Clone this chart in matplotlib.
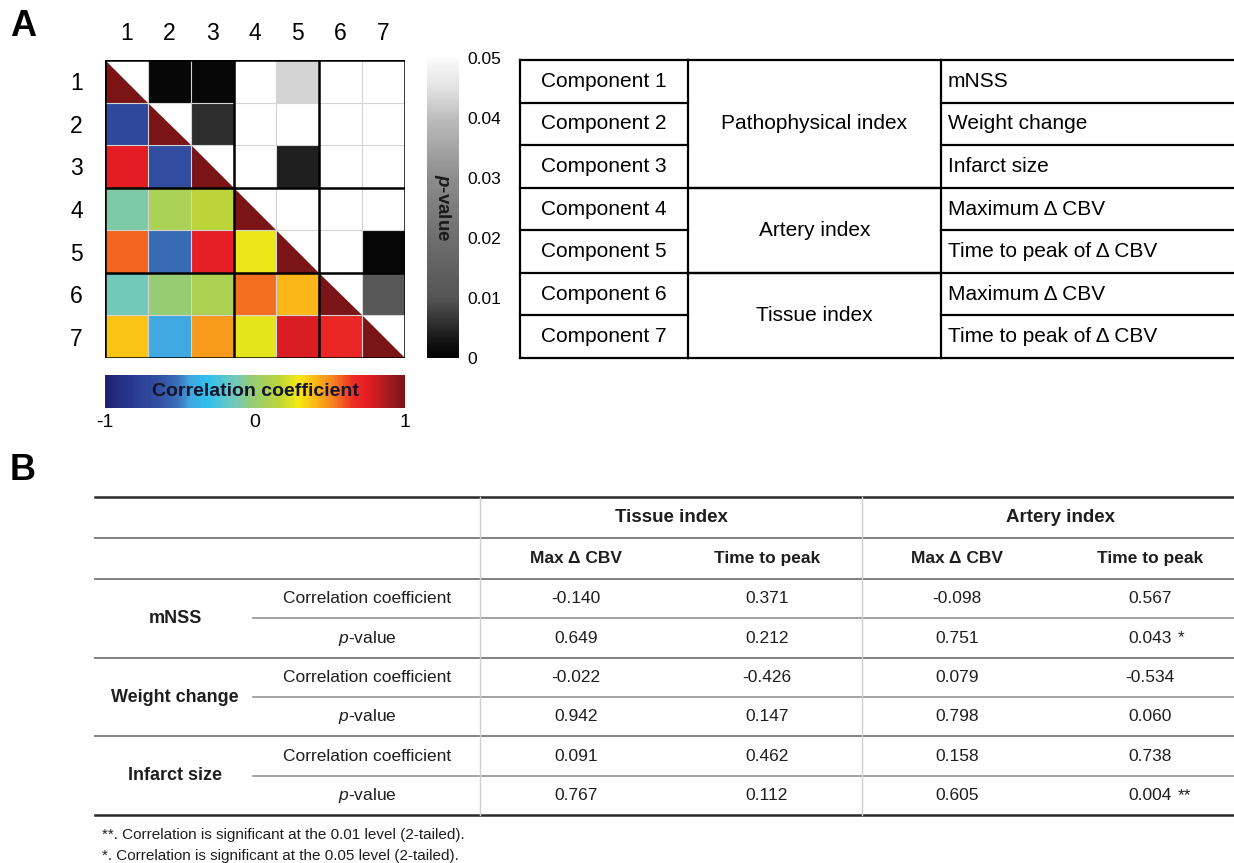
import matplotlib
matplotlib.use("Agg")
import matplotlib.pyplot as plt
import numpy as np
from matplotlib.colors import LinearSegmentedColormap, Normalize
from matplotlib.cm import ScalarMappable
from matplotlib.patches import Polygon

plt.rcParams['font.family'] = ['Liberation Sans', 'DejaVu Sans']
plt.rcParams['mathtext.fontset'] = 'custom'
plt.rcParams['mathtext.rm'] = 'Liberation Sans'
plt.rcParams['mathtext.it'] = 'Liberation Sans:italic'
plt.rcParams['mathtext.bf'] = 'Liberation Sans:bold'
plt.rcParams['mathtext.bfit'] = 'Liberation Sans:bold:italic'

# ---- data ----------------------------------------------------------------
components = ['1', '2', '3', '4', '5', '6', '7']

# table A
comp_names = ['Component 1', 'Component 2', 'Component 3', 'Component 4',
              'Component 5', 'Component 6', 'Component 7']
index_groups = ['Pathophysical index', 'Artery index', 'Tissue index']
group_spans = [(0, 3), (3, 5), (5, 7)]
measures = ['mNSS', 'Weight change', 'Infarct size', 'Maximum Δ CBV',
            'Time to peak of Δ CBV', 'Maximum Δ CBV', 'Time to peak of Δ CBV']

# table B (columns: tissue max, tissue ttp, artery max, artery ttp)
outcomes = ['mNSS', 'Weight change', 'Infarct size']
index_cols = ['Tissue index', 'Artery index']
sub_cols = ['Max Δ CBV', 'Time to peak', 'Max Δ CBV', 'Time to peak']
r_tab = [[-0.140, 0.371, -0.098, 0.567],
         [-0.022, -0.426, 0.079, -0.534],
         [0.091, 0.462, 0.158, 0.738]]
p_tab = [[0.649, 0.212, 0.751, 0.043],
         [0.942, 0.147, 0.798, 0.060],
         [0.767, 0.112, 0.605, 0.004]]
footnotes = ['**. Correlation is significant at the 0.01 level (2-tailed).',
             '*. Correlation is significant at the 0.05 level (2-tailed).']

# component 4..7 -> column of table B
comp_to_col = {3: 2, 4: 3, 5: 0, 6: 1}

# pairs inside the pathophysical block and inside the imaging block
pair_idx = [(1, 0), (2, 0), (2, 1), (4, 3), (5, 3), (6, 3), (5, 4), (6, 4), (6, 5)]
pair_r = [-0.70, 0.75, -0.66, 0.27, 0.55, 0.25, 0.40, 0.78, 0.68]
pair_p = [0.001, 0.001, 0.0055, 0.30, 0.20, 0.25, 0.15, 0.001, 0.011]

# ---- matrices -------------------------------------------------------------
n = len(components)
corr = np.eye(n)
pval = np.ones((n, n))
for (i, j), r, p in zip(pair_idx, pair_r, pair_p):
    corr[i, j] = corr[j, i] = r
    pval[i, j] = pval[j, i] = p
for comp, col in comp_to_col.items():
    for k in range(3):
        corr[comp, k] = corr[k, comp] = r_tab[k][col]
        pval[comp, k] = pval[k, comp] = p_tab[k][col]

jet = LinearSegmentedColormap.from_list('corr', [
    (0.00, '#1e2070'), (0.08, '#27368f'), (0.18, '#3350a2'), (0.24, '#3a6fb8'),
    (0.285, '#40a8e0'), (0.34, '#2fc0ee'), (0.44, '#78cab4'), (0.49, '#96cc74'),
    (0.54, '#aad157'), (0.58, '#bcd43a'), (0.645, '#f5ea12'), (0.70, '#fbb817'),
    (0.76, '#f5821f'), (0.83, '#ee2b25'), (0.88, '#e41c24'), (0.94, '#a81a1e'),
    (1.00, '#7a1416')])
greys = LinearSegmentedColormap.from_list('pv', [
    (0.0, '#000000'), (0.06, '#161616'), (0.12, '#323232'), (0.2, '#555555'),
    (0.4, '#6e6e6e'), (0.6, '#8c8c8c'), (0.8, '#bdbdbd'), (0.9, '#e2e2e2'),
    (1.0, '#fbfbfb')])
rnorm = Normalize(-1, 1)
pnorm = Normalize(0, 0.05)

W, H = 1234, 863
fig = plt.figure(figsize=(W / 100, H / 100), dpi=100)


def px_axes(x0, y0, x1, y1):
    return fig.add_axes([x0 / W, 1 - y1 / H, (x1 - x0) / W, (y1 - y0) / H])


# full-figure axes in pixel units for tables and labels
ax = fig.add_axes([0, 0, 1, 1])
ax.set_xlim(0, W)
ax.set_ylim(H, 0)
ax.axis('off')

# ---- correlation matrix -------------------------------------------------
mx = px_axes(105, 60, 405, 358)
rows, cols = np.indices((n, n))
lower = np.ma.masked_where(rows <= cols, corr)
upper = np.ma.masked_where((rows >= cols) | (pval > 0.05), pval)
mx.pcolormesh(np.arange(n + 1), np.arange(n + 1), lower, cmap=jet, norm=rnorm)
mx.pcolormesh(np.arange(n + 1), np.arange(n + 1), upper, cmap=greys, norm=pnorm)
for i in range(n):
    mx.add_patch(Polygon([(i, i), (i, i + 1), (i + 1, i + 1)],
                         closed=True, facecolor=jet(rnorm(corr[i, i])),
                         edgecolor='none', zorder=2))
mx.set_xlim(0, n)
mx.set_ylim(n, 0)
for k in range(1, n):
    mx.axhline(k, color='#d4d4d4', lw=0.8, zorder=3)
    mx.axvline(k, color='#d4d4d4', lw=0.8, zorder=3)
for k in [0, 3, 5, n]:
    mx.axhline(k, color='black', lw=1.8, zorder=4)
    mx.axvline(k, color='black', lw=1.8, zorder=4)
mx.set_xticks(np.arange(n) + 0.5)
mx.set_yticks(np.arange(n) + 0.5)
mx.set_xticklabels(components, fontsize=16.5)
mx.set_yticklabels(components, fontsize=16.5)
mx.xaxis.tick_top()
mx.tick_params(length=0)
mx.tick_params(axis='x', pad=11)
mx.tick_params(axis='y', pad=16)
for s in mx.spines.values():
    s.set_visible(False)

# correlation colour bar
cax = px_axes(105, 375, 405, 408)
cb = fig.colorbar(ScalarMappable(norm=rnorm, cmap=jet), cax=cax, orientation='horizontal')
cb.outline.set_visible(False)
cb.set_ticks([-1, 0, 1])
cb.set_ticklabels(['-1', '0', '1'])
cax.tick_params(length=0, labelsize=14, pad=4)
cax.text(0.5, 0.5, 'Correlation coefficient', transform=cax.transAxes,
         ha='center', va='center', fontsize=14, fontweight='bold', color='#14142a')

# p-value colour bar
pax = px_axes(427, 58, 459, 358)
pb = fig.colorbar(ScalarMappable(norm=pnorm, cmap=greys), cax=pax)
pb.outline.set_visible(False)
pb.set_ticks([0, 0.01, 0.02, 0.03, 0.04, 0.05])
pb.set_ticklabels(['0', '0.01', '0.02', '0.03', '0.04', '0.05'])
pax.tick_params(length=0, labelsize=12.5, pad=6)
pax.text(0.5, 0.5, r'$\mathbfit{p}$-value', transform=pax.transAxes, rotation=270,
         ha='center', va='center', fontsize=13.5, fontweight='bold', color='#1a1a1a')

# ---- table A --------------------------------------------------------------
ta_top, ta_bot = 60, 358
rh = (ta_bot - ta_top) / n
xa = [520, 688, 941, W]
ax.plot([xa[0], xa[0]], [ta_top, ta_bot], color='black', lw=1.6)
ax.plot([xa[1], xa[1]], [ta_top, ta_bot], color='black', lw=1.6)
ax.plot([xa[2], xa[2]], [ta_top, ta_bot], color='black', lw=1.6)
for k in range(n + 1):
    y = ta_top + k * rh
    ax.plot([xa[0], xa[1]], [y, y], color='black', lw=1.6)
    ax.plot([xa[2], xa[3]], [y, y], color='black', lw=1.6)
for a, b in group_spans:
    for k in (a, b):
        y = ta_top + k * rh
        ax.plot([xa[1], xa[2]], [y, y], color='black', lw=1.6)
for k in range(n):
    yc = ta_top + (k + 0.5) * rh
    ax.text((xa[0] + xa[1]) / 2, yc, comp_names[k], ha='center', va='center', fontsize=15)
    ax.text(xa[2] + 7, yc, measures[k], ha='left', va='center', fontsize=15)
for name, (a, b) in zip(index_groups, group_spans):
    yc = ta_top + (a + b) / 2 * rh
    ax.text((xa[1] + xa[2]) / 2, yc, name, ha='center', va='center', fontsize=15)

# ---- table B --------------------------------------------------------------
tb_x0, tb_x1 = 95, W
tb_top, tb_h1, tb_h2 = 497, 538, 579
tb_bot = 815
srh = (tb_bot - tb_h2) / 6
vlines = [480, 862]
col_x = [576, 767, 957, 1150]
head_x = [671, 1060]
txt = '#1e1e1e'

ax.plot([tb_x0, tb_x1], [tb_top, tb_top], color='#2a2a2a', lw=1.8)
ax.plot([tb_x0, tb_x1], [tb_bot, tb_bot], color='#2a2a2a', lw=1.8)
ax.plot([tb_x0, tb_x1], [tb_h1, tb_h1], color='#777777', lw=1.3)
for g in range(3):
    y = tb_h2 + g * 2 * srh
    ax.plot([tb_x0, tb_x1], [y, y], color='#777777', lw=1.3)
    ax.plot([253, tb_x1], [y + srh, y + srh], color='#8a8a8a', lw=1.1)
for x in vlines:
    ax.plot([x, x], [tb_top, tb_bot], color='#cfcfcf', lw=1.0)

for name, x in zip(index_cols, head_x):
    ax.text(x, (tb_top + tb_h1) / 2, name, ha='center', va='center',
            fontsize=13.5, fontweight='bold', color=txt)
for name, x in zip(sub_cols, col_x):
    ax.text(x, (tb_h1 + tb_h2) / 2, name, ha='center', va='center',
            fontsize=12.5, fontweight='bold', color=txt)

for g, name in enumerate(outcomes):
    y_r = tb_h2 + (2 * g + 0.5) * srh
    y_p = tb_h2 + (2 * g + 1.5) * srh
    ax.text(175, tb_h2 + (2 * g + 1) * srh, name, ha='center', va='center',
            fontsize=13, fontweight='bold', color=txt)
    ax.text(367, y_r, 'Correlation coefficient', ha='center', va='center',
            fontsize=12.5, color=txt)
    ax.text(367, y_p, '$p$-value', ha='center', va='center', fontsize=12.5, color=txt)
    for c, x in enumerate(col_x):
        ax.text(x, y_r, f'{r_tab[g][c]:.3f}', ha='center', va='center',
                fontsize=12.5, color=txt)
        p = p_tab[g][c]
        ax.text(x, y_p, f'{p:.3f}', ha='center', va='center', fontsize=12.5, color=txt)
        mark = '**' if p < 0.01 else ('*' if p < 0.05 else '')
        if mark:
            ax.text(x + 28, y_p, mark, ha='left', va='center', fontsize=12.5, color=txt)

for k, note in enumerate(footnotes):
    ax.text(102, 835 + k * 21, note, ha='left', va='center', fontsize=11, color=txt)

# panel letters
ax.text(10, 26, 'A', ha='left', va='center', fontsize=26, fontweight='bold')
ax.text(10, 470, 'B', ha='left', va='center', fontsize=26, fontweight='bold')

fig.savefig('out.png', dpi=100)
